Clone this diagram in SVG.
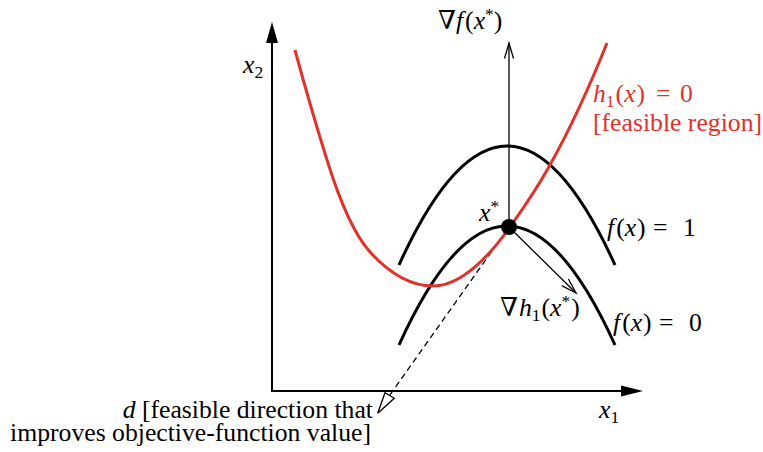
<svg xmlns="http://www.w3.org/2000/svg" width="763" height="452" viewBox="0 0 763 452">
<style>
.t { font-family: 'Liberation Serif', 'Times New Roman', Times, 'DejaVu Serif', serif; font-size: 25.7px; fill: #000; }
.i { font-style: italic; }
.red { fill: #e0322a; }
.sm { font-size: 17.5px; }
.axis { stroke: #000; stroke-width: 2; fill: none; }
.curve { stroke: #000; stroke-width: 3; fill: none; }
.h { stroke: #e0322a; stroke-width: 3; fill: none; }
.thin { stroke: #000; stroke-width: 1.3; fill: none; }
.dash { stroke: #000; stroke-width: 1.3; fill: none; stroke-dasharray: 6 4; }
</style>
<rect width="763" height="452" fill="#fff"/>

<g id="connectors">
  <g id="axis-x1">
    <line class="axis" x1="272" y1="391" x2="623" y2="391"/>
    <polygon points="643,391 621,385.5 621,396.5" fill="#000"/>
  </g>
  <g id="axis-x2">
    <line class="axis" x1="272" y1="392" x2="272" y2="41"/>
    <polygon points="272,22 266,43 278,43" fill="#000"/>
  </g>
  <g id="grad-f">
    <line class="thin" x1="509" y1="227" x2="509" y2="43"/>
    <polyline class="thin" points="504.5,58.5 509,43 513.5,58.5"/>
  </g>
  <g id="grad-h">
    <line class="thin" x1="509" y1="227" x2="576" y2="293"/>
    <polyline class="thin" points="568.4,279 576,293 561.8,285.6"/>
  </g>
  <g id="direction-d">
    <line class="dash" x1="509" y1="227" x2="389.5" y2="395.5"/>
    <polygon points="377.7,413.3 385,392.7 394.3,398.3" fill="#fff" stroke="#000" stroke-width="1.3"/>
  </g>
</g>

<g id="contour-f1">
  <path class="curve" d="M399,265 Q507,27 615,265"/>
</g>
<g id="contour-f0">
  <path class="curve" d="M399,345 Q507,107 615,345"/>
</g>
<g id="constraint-h1">
  <path class="h" d="M295,50 C305.67,89.5 316.33,125.9 327,160 C341.33,205.9 355.67,236.2 370,252 C391,275.1 412,286 433,286 C458.67,286 484.33,262.9 510,227 C523.33,208.3 536.67,189 550,165 C569,130.8 588,90.5 607,43"/>
</g>
<g id="point-xstar">
  <circle cx="509" cy="227" r="8" fill="#000"/>
</g>

<g id="labels">
  <text class="t" id="lbl-gradf" x="438" y="29">∇<tspan class="i">f</tspan><tspan dx="2">(</tspan><tspan class="i">x</tspan><tspan class="sm" dy="-9">*</tspan><tspan dy="9">)</tspan></text>
  <text class="t red" id="lbl-h1" x="593" y="102"><tspan class="i">h</tspan><tspan class="sm" dy="5">1</tspan><tspan dy="-5" dx="1">(</tspan><tspan class="i">x</tspan><tspan dx="1">)</tspan><tspan x="656">=</tspan><tspan x="680">0</tspan></text>
  <text class="t red" id="lbl-feasible" x="593" y="131">[feasible region]</text>
  <text class="t" id="lbl-x2" x="243" y="73"><tspan class="i">x</tspan><tspan class="sm" dy="5">2</tspan></text>
  <text class="t" id="lbl-x1" x="599" y="418"><tspan class="i">x</tspan><tspan class="sm" dy="5">1</tspan></text>
  <text class="t" id="lbl-xstar" x="479" y="221"><tspan class="i">x</tspan><tspan class="sm" dy="-9">*</tspan></text>
  <text class="t" id="lbl-f1" x="607" y="236"><tspan class="i">f</tspan><tspan dx="2">(</tspan><tspan class="i">x</tspan><tspan dx="1">)</tspan><tspan x="653">=</tspan><tspan x="683">1</tspan></text>
  <text class="t" id="lbl-f0" x="613" y="331"><tspan class="i">f</tspan><tspan dx="2">(</tspan><tspan class="i">x</tspan><tspan dx="1">)</tspan><tspan x="659">=</tspan><tspan x="689">0</tspan></text>
  <text class="t" id="lbl-gradh" x="500" y="316">∇<tspan class="i" dx="1">h</tspan><tspan class="sm" dy="5">1</tspan><tspan dy="-5" dx="1">(</tspan><tspan class="i">x</tspan><tspan class="sm" dy="-9">*</tspan><tspan dy="9" dx="1">)</tspan></text>
  <text class="t" id="lbl-d1" x="373" y="418" text-anchor="end"><tspan class="i">d</tspan> [feasible direction that</text>
  <text class="t" id="lbl-d2" x="371" y="441" text-anchor="end">improves objective-function value]</text>
</g>
</svg>
